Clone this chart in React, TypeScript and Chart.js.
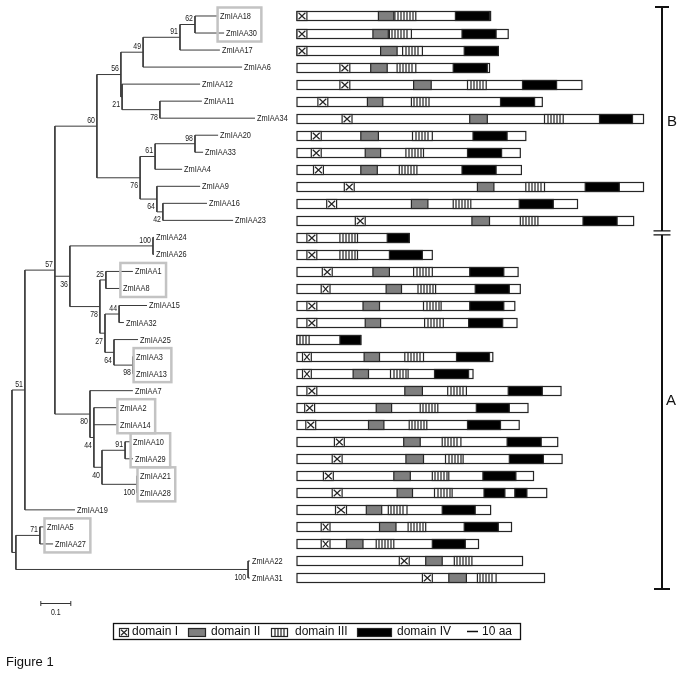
import React, { useEffect, useRef } from 'react';
import { Chart, registerables } from 'chart.js';
Chart.register(...registerables);

// ---- leaves (top to bottom) ----
const genes = ['ZmIAA18','ZmIAA30','ZmIAA17','ZmIAA6','ZmIAA12','ZmIAA11','ZmIAA34','ZmIAA20','ZmIAA33','ZmIAA4','ZmIAA9','ZmIAA16','ZmIAA23','ZmIAA24','ZmIAA26','ZmIAA1','ZmIAA8','ZmIAA15','ZmIAA32','ZmIAA25','ZmIAA3','ZmIAA13','ZmIAA7','ZmIAA2','ZmIAA14','ZmIAA10','ZmIAA29','ZmIAA21','ZmIAA28','ZmIAA19','ZmIAA5','ZmIAA27','ZmIAA22','ZmIAA31'];
// distance of each tip from the root (substitutions / site)
const tipDepth = [0.687,0.707,0.693,0.767,0.627,0.633,0.81,0.687,0.637,0.567,0.627,0.65,0.737,0.473,0.473,0.403,0.363,0.45,0.373,0.42,0.407,0.407,0.403,0.353,0.353,0.397,0.403,0.42,0.42,0.21,0.11,0.137,0.793,0.793];

// ---- internal nodes ----
const nodeIds = ['n62','n91','n49','n78','n21','n56','n98','n61','n42','n64','n76','n60','n100a','n25','n44b','n98b','n64b','n27','n78b','n36','n91b','n100b','n40','n44','n80','n57','n51','n71','n100c','nX','root'];
const nodeDepth = [0.61,0.56,0.437,0.493,0.367,0.363,0.61,0.477,0.503,0.483,0.427,0.283,0.47,0.313,0.357,0.403,0.34,0.31,0.293,0.193,0.377,0.417,0.3,0.273,0.26,0.143,0.043,0.093,0.787,0.013,0];
const nodeChildren = [
  ['ZmIAA18','ZmIAA30'], ['n62','ZmIAA17'], ['n91','ZmIAA6'], ['ZmIAA11','ZmIAA34'], ['ZmIAA12','n78'],
  ['n49','n21'], ['ZmIAA20','ZmIAA33'], ['n98','ZmIAA4'], ['ZmIAA16','ZmIAA23'], ['ZmIAA9','n42'],
  ['n61','n64'], ['n56','n76'], ['ZmIAA24','ZmIAA26'], ['ZmIAA1','ZmIAA8'], ['ZmIAA15','ZmIAA32'],
  ['ZmIAA3','ZmIAA13'], ['ZmIAA25','n98b'], ['n44b','n64b'], ['n25','n27'], ['n100a','n78b'],
  ['ZmIAA10','ZmIAA29'], ['ZmIAA21','ZmIAA28'], ['n91b','n100b'], ['ZmIAA2','ZmIAA14','n40'], ['ZmIAA7','n44'],
  ['n60','n36','n80'], ['n57','ZmIAA19'], ['ZmIAA5','ZmIAA27'], ['ZmIAA22','ZmIAA31'], ['n71','n100c'], ['n51','nX']
];
const bootstrap = [62,91,49,78,21,56,98,61,42,64,76,60,100,25,44,98,64,27,78,36,91,100,40,44,80,57,51,71,100,null,null];
const supportBelow = [0,0,0,1,1,0,0,0,1,1,1,0,0,0,0,1,1,1,1,1,0,1,1,1,1,0,0,0,1,0,0];

// boxed gene pairs
const boxedPairs = [['ZmIAA18','ZmIAA30'],['ZmIAA1','ZmIAA8'],['ZmIAA3','ZmIAA13'],['ZmIAA2','ZmIAA14'],['ZmIAA10','ZmIAA29'],['ZmIAA21','ZmIAA28'],['ZmIAA5','ZmIAA27']];

// ---- protein domains (amino acids) ----
const protLen = [176,192,183,175,259,223,315,208,203,204,315,255,306,102,123,201,203,198,200,58,178,160,240,210,202,237,241,215,227,176,195,165,205,225];
const domI = [[0,9],[0,9],[0,9],[39,48],[39,48],[19,28],[41,50],[13,22],[13,22],[15,24],[43,52],[27,36],[53,62],[9,18],[9,18],[23,32],[22,30],[9,18],[9,18],null,[5,13],[5,13],[9,18],[7,16],[8,17],[34,43],[32,41],[24,33],[32,41],[35,45],[22,30],[22,30],[93,102],[114,123]];
const domII = [[74,88],[69,83],[76,91],[67,82],[106,122],[64,78],[157,173],[58,74],[62,76],[58,73],[164,179],[104,119],[159,175],null,null,[69,84],[81,95],[60,75],[62,76],null,[61,75],[51,65],[98,114],[72,86],[65,79],[97,112],[99,115],[88,103],[91,105],[63,77],[75,90],[45,60],[117,132],[138,154]];
const domIII = [[89,108],[84,104],[96,114],[91,108],[155,172],[104,120],[225,242],[105,123],[99,115],[93,109],[208,225],[142,158],[203,219],[39,55],[39,55],[106,123],[110,126],[115,131],[116,133],[0,11],[98,115],[85,101],[137,154],[112,128],[102,118],[132,149],[135,151],[123,138],[125,141],[83,100],[101,117],[72,88],[143,159],[164,181]];
const domIV = [[144,175],[150,181],[152,183],[142,173],[205,236],[185,216],[275,305],[160,191],[155,186],[150,181],[262,293],[202,233],[260,291],[82,102],[84,114],[157,188],[162,193],[157,188],[156,187],[39,58],[145,175],[125,156],[192,223],[163,193],[155,185],[191,222],[193,224],[169,199],[170,189,198,209],[132,162],[152,183],[123,153],null,null];

const groups = [{ name: 'B', from: 0, to: 12 }, { name: 'A', from: 13, to: 33 }];
const legendItems = ['domain I', 'domain II', 'domain III', 'domain IV'];
const scaleBarLength = 0.1;
const scaleUnitAA = 10;

// ---- tree layout (row values) ----
type P = { d: number; r: number };
function layoutTree() {
  const pos: Record<string, P> = {};
  genes.forEach((g, i) => { pos[g] = { d: tipDepth[i], r: i }; });
  const get = (id: string): P => {
    if (pos[id]) return pos[id];
    const k = nodeIds.indexOf(id);
    const rs = nodeChildren[k].map((c) => get(c).r);
    pos[id] = { d: nodeDepth[k], r: (Math.min(...rs) + Math.max(...rs)) / 2 };
    return pos[id];
  };
  nodeIds.forEach((id) => get(id));
  return pos;
}
const treePos = layoutTree();
const treeSegments: any[] = [];
nodeIds.forEach((id, k) => {
  const p = treePos[id];
  const rs = nodeChildren[k].map((c) => treePos[c].r);
  treeSegments.push({ x: p.d, y: Math.min(...rs) }, { x: p.d, y: Math.max(...rs) }, { x: null, y: null });
  nodeChildren[k].forEach((c) => {
    const q = treePos[c];
    treeSegments.push({ x: p.d, y: q.r }, { x: q.d, y: q.r }, { x: null, y: null });
  });
});

const NARROW = 0.82;
function narrowText(ctx: CanvasRenderingContext2D, t: string, x: number, y: number, align: CanvasTextAlign) {
  ctx.save();
  ctx.translate(x, y);
  ctx.scale(NARROW, 1);
  ctx.textAlign = align;
  ctx.fillText(t, 0, 0);
  ctx.restore();
}

function drawCross(ctx: CanvasRenderingContext2D, x0: number, x1: number, top: number, h: number) {
  ctx.fillStyle = '#fff';
  ctx.fillRect(x0, top, x1 - x0, h);
  ctx.strokeRect(x0, top, x1 - x0, h);
  ctx.beginPath();
  ctx.moveTo(x0 + 1.5, top + 1.2); ctx.lineTo(x1 - 1.5, top + h - 1.2);
  ctx.moveTo(x1 - 1.5, top + 1.2); ctx.lineTo(x0 + 1.5, top + h - 1.2);
  ctx.stroke();
}
function drawStripes(ctx: CanvasRenderingContext2D, x0: number, x1: number, top: number, h: number) {
  ctx.fillStyle = '#fff';
  ctx.fillRect(x0, top, x1 - x0, h);
  ctx.strokeRect(x0, top, x1 - x0, h);
  ctx.beginPath();
  for (let x = Math.round(x0) + 3; x < x1 - 1.5; x += 3) {
    ctx.moveTo(x, top); ctx.lineTo(x, top + h);
  }
  ctx.stroke();
}
function drawGray(ctx: CanvasRenderingContext2D, x0: number, x1: number, top: number, h: number) {
  ctx.fillStyle = '#7f7f7f';
  ctx.fillRect(x0, top, x1 - x0, h);
  ctx.strokeRect(x0, top, x1 - x0, h);
}
function drawBlack(ctx: CanvasRenderingContext2D, x0: number, x1: number, top: number, h: number) {
  ctx.fillStyle = '#000';
  ctx.fillRect(x0, top, x1 - x0, h);
  ctx.strokeRect(x0, top, x1 - x0, h);
}

const drawPlugin = {
  id: 'phyloDomains',
  afterDatasetsDraw(chart: any) {
    const ctx: CanvasRenderingContext2D = chart.ctx;
    const xs = chart.scales.x, xa = chart.scales.xa, ys = chart.scales.y;
    const X = (v: number) => xs.getPixelForValue(v);
    const A = (v: number) => xa.getPixelForValue(v);
    const Y = (v: number) => ys.getPixelForValue(v);
    ctx.save();
    ctx.textBaseline = 'middle';
    ctx.fillStyle = '#1a1a1a';

    // gene labels
    ctx.font = '9px "Liberation Sans", Arial, sans-serif';
    const labelX: Record<string, number> = {};
    const labelW: Record<string, number> = {};
    genes.forEach((g, i) => {
      const lx = X(tipDepth[i]) + 2;
      labelX[g] = lx;
      labelW[g] = ctx.measureText(g).width * NARROW;
      narrowText(ctx, g, lx, Y(i) + 0.5, 'left');
    });

    // bootstrap values
    ctx.font = '8.5px "Liberation Sans", Arial, sans-serif';
    nodeIds.forEach((id, k) => {
      const b = bootstrap[k];
      if (b == null) return;
      const p = treePos[id];
      const ty = Y(p.r) + (supportBelow[k] ? 8 : -5.5);
      narrowText(ctx, String(b), X(p.d) - 2, ty, 'right');
    });

    // gray boxes
    ctx.strokeStyle = '#c3c3c3';
    ctx.lineWidth = 2.5;
    boxedPairs.forEach((pair) => {
      const l = Math.min(...pair.map((g) => labelX[g])) - 2.5;
      const r = Math.max(...pair.map((g) => labelX[g] + labelW[g])) + 4.5;
      const t = Y(genes.indexOf(pair[0])) - 8.5;
      const b = Y(genes.indexOf(pair[1])) + 8.5;
      ctx.strokeRect(l, t, r - l, b - t);
    });

    // scale bar
    ctx.strokeStyle = '#333';
    ctx.lineWidth = 1;
    const sbY = Math.round(Y(34.47)) + 0.5;
    const sb0 = X(0.096), sb1 = X(0.096 + scaleBarLength);
    ctx.beginPath();
    ctx.moveTo(sb0, sbY); ctx.lineTo(sb1, sbY);
    ctx.moveTo(sb0, sbY - 2.5); ctx.lineTo(sb0, sbY + 2.5);
    ctx.moveTo(sb1, sbY - 2.5); ctx.lineTo(sb1, sbY + 2.5);
    ctx.stroke();
    ctx.font = '8.5px "Liberation Sans", Arial, sans-serif';
    narrowText(ctx, String(scaleBarLength), (sb0 + sb1) / 2, sbY + 9.5, 'center');

    // domain bars
    const h = 9;
    ctx.lineWidth = 1.2;
    ctx.strokeStyle = '#262626';
    genes.forEach((g, i) => {
      const top = Math.round(Y(i) - h / 2) + 0.5;
      const x0 = A(0), x1 = A(protLen[i]);
      ctx.fillStyle = '#fff';
      ctx.fillRect(x0, top, x1 - x0, h);
      ctx.strokeRect(x0, top, x1 - x0, h);
      if (domII[i]) drawGray(ctx, A(domII[i]![0]), A(domII[i]![1]), top, h);
      if (domIV[i]) {
        const s = domIV[i]!;
        for (let k = 0; k < s.length; k += 2) drawBlack(ctx, A(s[k]), A(s[k + 1]), top, h);
      }
      if (domIII[i]) drawStripes(ctx, A(domIII[i]![0]), A(domIII[i]![1]), top, h);
      if (domI[i]) drawCross(ctx, A(domI[i]![0]), A(domI[i]![1]), top, h);
    });

    // group bracket
    const bx = 662;
    ctx.strokeStyle = '#111';
    ctx.lineWidth = 2;
    const gTop = Y(groups[0].from) - 9;
    const gBreak = (Y(groups[0].to) + Y(groups[1].from)) / 2 + 4;
    const gBot = Y(groups[1].to) + 11;
    ctx.beginPath();
    ctx.moveTo(bx, gTop); ctx.lineTo(bx, gBreak - 2);
    ctx.moveTo(bx, gBreak + 2); ctx.lineTo(bx, gBot);
    ctx.moveTo(bx - 7, gTop); ctx.lineTo(bx + 7, gTop);
    ctx.moveTo(bx - 8, gBot); ctx.lineTo(bx + 8, gBot);
    ctx.stroke();
    ctx.lineWidth = 1.3;
    ctx.beginPath();
    ctx.moveTo(bx - 8.5, gBreak - 2); ctx.lineTo(bx + 8.5, gBreak - 2);
    ctx.moveTo(bx - 8.5, gBreak + 2); ctx.lineTo(bx + 8.5, gBreak + 2);
    ctx.stroke();
    ctx.fillStyle = '#111';
    ctx.font = '15px "Liberation Sans", Arial, sans-serif';
    ctx.textAlign = 'left';
    ctx.fillText(groups[0].name, 667, Y(6.2));
    ctx.fillText(groups[1].name, 666, Y(22.6));

    // legend
    const lt = 623.5, lb = 639.5, ll = 113.5, lr = 520.5;
    const cy = (lt + lb) / 2;
    ctx.lineWidth = 1.3;
    ctx.strokeStyle = '#111';
    ctx.strokeRect(ll, lt, lr - ll, lb - lt);
    const ih = 8, itop = Math.round(cy - ih / 2) + 0.5;
    ctx.lineWidth = 1.2;
    ctx.strokeStyle = '#262626';
    drawCross(ctx, 119.5, 128.5, itop, ih);
    drawGray(ctx, 188.5, 205.5, itop, ih);
    drawStripes(ctx, 271.5, 287.5, itop, ih);
    drawBlack(ctx, 357.5, 391.5, itop, ih);
    const l0 = 467, l1 = l0 + (A(scaleUnitAA) - A(0));
    ctx.lineWidth = 1.5;
    ctx.strokeStyle = '#111';
    ctx.beginPath(); ctx.moveTo(l0, cy); ctx.lineTo(l1, cy); ctx.stroke();
    ctx.fillStyle = '#111';
    ctx.font = '12px "Liberation Sans", Arial, sans-serif';
    ctx.textAlign = 'left';
    const tx = [132, 211, 295, 397];
    legendItems.forEach((t, k) => ctx.fillText(t, tx[k], cy + 0.5));
    ctx.fillText(scaleUnitAA + ' aa', 482, cy + 0.5);

    // figure caption
    ctx.font = '13px "Liberation Sans", Arial, sans-serif';
    ctx.fillStyle = '#111';
    ctx.fillText('Figure 1', 6, 662);
    ctx.restore();
  },
};

export default function App() {
  const ref = useRef<HTMLCanvasElement>(null);
  useEffect(() => {
    document.body.style.margin = '0';
    const chart = new Chart(ref.current as HTMLCanvasElement, {
      type: 'scatter',
      data: {
        datasets: [{
          data: treeSegments,
          showLine: true,
          borderColor: '#3a3a3a',
          borderWidth: 1,
          pointRadius: 0,
          pointHoverRadius: 0,
          spanGaps: false,
          tension: 0,
        } as any],
      },
      options: {
        responsive: false,
        animation: false,
        devicePixelRatio: 1,
        events: [],
        layout: { padding: 0 },
        plugins: { legend: { display: false }, tooltip: { enabled: false } },
        scales: {
          x: { type: 'linear', min: -0.04, max: 2.2367, display: false },
          xa: { type: 'linear', axis: 'x', position: 'bottom', min: -270, max: 350.9, display: false },
          y: { type: 'linear', reverse: true, min: -0.9395, max: 38.755, display: false },
        },
      } as any,
      plugins: [drawPlugin],
    });
    return () => chart.destroy();
  }, []);
  return <canvas ref={ref} width={683} height={676} style={{ display: 'block', background: '#fff' }} />;
}
